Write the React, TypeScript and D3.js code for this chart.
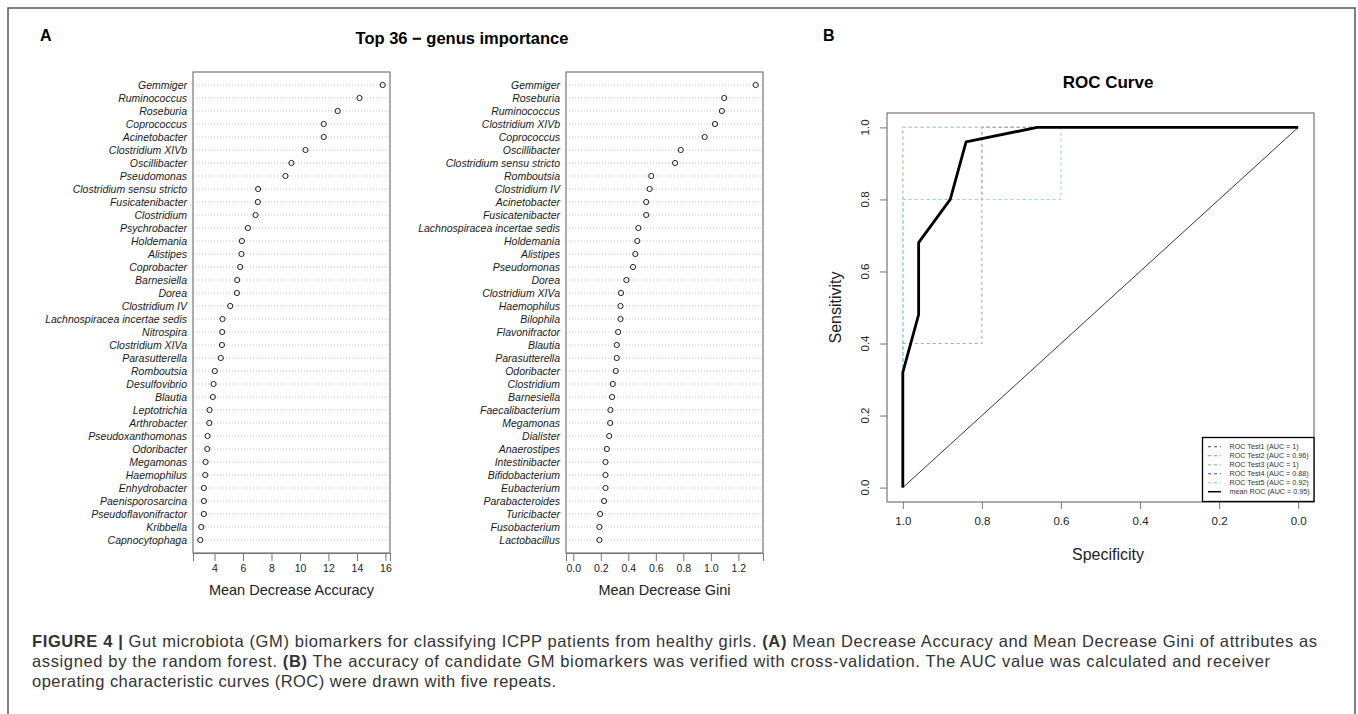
import React, { useEffect, useRef } from "react";
import * as d3 from "d3";

// panel A, left: Mean Decrease Accuracy (top to bottom)
const accGenera = [
  "Gemmiger", "Ruminococcus", "Roseburia", "Coprococcus", "Acinetobacter",
  "Clostridium XIVb", "Oscillibacter", "Pseudomonas", "Clostridium sensu stricto",
  "Fusicatenibacter", "Clostridium", "Psychrobacter", "Holdemania", "Alistipes",
  "Coprobacter", "Barnesiella", "Dorea", "Clostridium IV",
  "Lachnospiracea incertae sedis", "Nitrospira", "Clostridium XIVa", "Parasutterella",
  "Romboutsia", "Desulfovibrio", "Blautia", "Leptotrichia", "Arthrobacter",
  "Pseudoxanthomonas", "Odoribacter", "Megamonas", "Haemophilus", "Enhydrobacter",
  "Paenisporosarcina", "Pseudoflavonifractor", "Kribbella", "Capnocytophaga",
];
const accValues = [
  15.81, 14.18, 12.65, 11.67, 11.67, 10.39, 9.4, 8.98, 7.06, 7.04, 6.88, 6.34,
  5.92, 5.89, 5.8, 5.59, 5.57, 5.1, 4.56, 4.54, 4.52, 4.44, 4.02, 3.93, 3.88,
  3.65, 3.63, 3.51, 3.49, 3.37, 3.35, 3.25, 3.25, 3.25, 3.07, 3.0,
];
const accTicks = [4, 6, 8, 10, 12, 14, 16];

// panel A, right: Mean Decrease Gini (top to bottom)
const giniGenera = [
  "Gemmiger", "Roseburia", "Ruminococcus", "Clostridium XIVb", "Coprococcus",
  "Oscillibacter", "Clostridium sensu stricto", "Romboutsia", "Clostridium IV",
  "Acinetobacter", "Fusicatenibacter", "Lachnospiracea incertae sedis", "Holdemania",
  "Alistipes", "Pseudomonas", "Dorea", "Clostridium XIVa", "Haemophilus", "Bilophila",
  "Flavonifractor", "Blautia", "Parasutterella", "Odoribacter", "Clostridium",
  "Barnesiella", "Faecalibacterium", "Megamonas", "Dialister", "Anaerostipes",
  "Intestinibacter", "Bifidobacterium", "Eubacterium", "Parabacteroides",
  "Turicibacter", "Fusobacterium", "Lactobacillus",
];
const giniValues = [
  1.326, 1.097, 1.08, 1.03, 0.955, 0.781, 0.74, 0.567, 0.555, 0.53, 0.53, 0.473,
  0.465, 0.451, 0.434, 0.386, 0.347, 0.343, 0.343, 0.326, 0.316, 0.316, 0.309,
  0.287, 0.282, 0.27, 0.268, 0.261, 0.244, 0.234, 0.234, 0.234, 0.224, 0.195,
  0.19, 0.19,
];
const giniTicks = [0, 0.2, 0.4, 0.6, 0.8, 1.0, 1.2];

// panel B: ROC curves (specificity, sensitivity)
const meanSpec = [1.0, 1.0, 0.96, 0.96, 0.88, 0.84, 0.66, 0.0];
const meanSens = [0.0, 0.32, 0.48, 0.68, 0.8, 0.96, 1.0, 1.0];
const test1Spec = [1, 1, 0];
const test1Sens = [0, 1, 1];
const test2Spec = [1, 1, 0.8, 0.8, 0];
const test2Sens = [0, 0.8, 0.8, 1, 1];
const test3Spec = [1, 1, 0];
const test3Sens = [0, 1, 1];
const test4Spec = [1, 1, 0.8, 0.8, 0];
const test4Sens = [0, 0.4, 0.4, 1, 1];
const test5Spec = [1, 1, 0.6, 0.6, 0];
const test5Sens = [0, 0.8, 0.8, 1, 1];
const rocTicks = [0, 0.2, 0.4, 0.6, 0.8, 1.0];
const legendLabels = [
  "ROC Test1 (AUC = 1)", "ROC Test2 (AUC = 0.96)", "ROC Test3 (AUC = 1)",
  "ROC Test4 (AUC = 0.88)", "ROC Test5 (AUC = 0.92)", "mean ROC (AUC = 0.95)",
];
// faded curve colours as they appear in the figure
const curveColors = ["#b8b8c8", "#f0b0b0", "#b0dcb0", "#a4a4e4", "#90dce4"];
const legendColors = ["#444", "#f07070", "#70cc70", "#4444cc", "#70d8e0"];

const FONT = "'Liberation Sans', Arial, sans-serif";

function dotPanel(svg, opts) {
  const { names, values, ticks, xmin, left, right, top, bottom, xlabel, fmt } = opts;
  const lo = xmin === undefined ? d3.min(values) : xmin;
  const hi = d3.max(values);
  const pad = (hi - lo) * 0.04;
  const x = d3.scaleLinear().domain([lo - pad, hi + pad]).range([left, right]);
  const y = d3
    .scaleLinear()
    .domain([0, names.length + 1])
    .range([bottom, top]);
  const rowY = (i) => y(names.length - i);

  const g = svg.append("g");

  g.selectAll("line.grid")
    .data(names)
    .join("line")
    .attr("x1", left)
    .attr("x2", right)
    .attr("y1", (d, i) => rowY(i))
    .attr("y2", (d, i) => rowY(i))
    .attr("stroke", "#b8b8b8")
    .attr("stroke-width", 0.8)
    .attr("stroke-dasharray", "1,2");

  g.selectAll("text.lab")
    .data(names)
    .join("text")
    .attr("x", left - 6)
    .attr("y", (d, i) => rowY(i))
    .attr("dy", "0.35em")
    .attr("text-anchor", "end")
    .attr("font-style", "italic")
    .attr("font-size", 10.5)
    .attr("fill", "#1a1a1a")
    .text((d) => d);

  g.selectAll("circle")
    .data(values)
    .join("circle")
    .attr("cx", (d) => x(d))
    .attr("cy", (d, i) => rowY(i))
    .attr("r", 2.6)
    .attr("fill", "none")
    .attr("stroke", "#222")
    .attr("stroke-width", 1);

  g.append("rect")
    .attr("x", left)
    .attr("y", top)
    .attr("width", right - left)
    .attr("height", bottom - top)
    .attr("fill", "none")
    .attr("stroke", "#777")
    .attr("stroke-width", 1.2);

  const axis = g
    .append("g")
    .attr("transform", `translate(0,${bottom})`)
    .call(
      d3
        .axisBottom(x)
        .tickValues(ticks)
        .tickSize(8)
        .tickPadding(4)
        .tickFormat(fmt)
    );
  axis.select(".domain").attr("stroke", "#777");
  axis.selectAll(".tick line").attr("stroke", "#777");
  axis
    .selectAll("text")
    .attr("font-size", 10.5)
    .attr("font-family", FONT)
    .attr("fill", "#222");

  g.append("text")
    .attr("x", (left + right) / 2)
    .attr("y", bottom + 42)
    .attr("text-anchor", "middle")
    .attr("font-size", 14.5)
    .attr("fill", "#222")
    .text(xlabel);
}

export default function App() {
  const ref = useRef(null);

  useEffect(() => {
    const svg = d3.select(ref.current);
    svg.selectAll("*").remove();
    svg.attr("font-family", FONT);

    // outer figure frame
    svg
      .append("path")
      .attr("d", "M8,720 V8 H1355 V720")
      .attr("fill", "none")
      .attr("stroke", "#555")
      .attr("stroke-width", 1.5);

    svg.append("text").attr("x", 40).attr("y", 41).attr("font-size", 16)
      .attr("font-weight", "bold").text("A");
    svg.append("text").attr("x", 823).attr("y", 41).attr("font-size", 16)
      .attr("font-weight", "bold").text("B");

    svg.append("text").attr("x", 462).attr("y", 44).attr("font-size", 16.5)
      .attr("font-weight", "bold").attr("text-anchor", "middle")
      .text("Top 36 \u2212 genus importance");

    dotPanel(svg, {
      names: accGenera, values: accValues, ticks: accTicks,
      left: 193, right: 390, top: 72, bottom: 553,
      xlabel: "Mean Decrease Accuracy", fmt: d3.format("d"),
    });
    dotPanel(svg, {
      names: giniGenera, values: giniValues, ticks: giniTicks, xmin: 0,
      left: 566, right: 763, top: 72, bottom: 553,
      xlabel: "Mean Decrease Gini", fmt: d3.format(".1f"),
    });

    // ROC panel
    const L = 887, R = 1314, T = 113, B = 502;
    const x = d3.scaleLinear().domain([1.04, -0.04]).range([L, R]);
    const y = d3.scaleLinear().domain([-0.04, 1.04]).range([B, T]);
    const line = d3.line().x((d) => x(d[0])).y((d) => y(d[1]));
    const roc = svg.append("g");

    roc.append("text").attr("x", 1108).attr("y", 88).attr("text-anchor", "middle")
      .attr("font-size", 17).attr("font-weight", "bold").text("ROC Curve");

    const tests = [
      [test1Spec, test1Sens], [test2Spec, test2Sens], [test3Spec, test3Sens],
      [test4Spec, test4Sens], [test5Spec, test5Sens],
    ];
    tests.forEach(([s, t], k) => {
      roc.append("path")
        .attr("d", line(s.map((v, i) => [v, t[i]])))
        .attr("fill", "none")
        .attr("stroke", curveColors[k])
        .attr("stroke-width", 1.1)
        .attr("stroke-dasharray", "3,3");
    });

    roc.append("path")
      .attr("d", line([[1, 0], [0, 1]]))
      .attr("stroke", "#222")
      .attr("stroke-width", 0.9)
      .attr("fill", "none");

    roc.append("path")
      .attr("d", line(meanSpec.map((v, i) => [v, meanSens[i]])))
      .attr("fill", "none")
      .attr("stroke", "#000")
      .attr("stroke-width", 2.8)
      .attr("stroke-linejoin", "round");

    roc.append("rect").attr("x", L).attr("y", T).attr("width", R - L)
      .attr("height", B - T).attr("fill", "none").attr("stroke", "#777")
      .attr("stroke-width", 1.2);

    const xa = roc.append("g").attr("transform", `translate(0,${B})`)
      .call(d3.axisBottom(x).tickValues(rocTicks).tickSize(7).tickPadding(8)
        .tickFormat(d3.format(".1f")));
    xa.select(".domain").remove();
    xa.selectAll(".tick line").attr("stroke", "#777");
    xa.selectAll("text").attr("font-size", 11.5).attr("font-family", FONT).attr("fill", "#222");

    const ya = roc.append("g").attr("transform", `translate(${L},0)`)
      .call(d3.axisLeft(y).tickValues(rocTicks).tickSize(7).tickFormat(() => ""));
    ya.select(".domain").remove();
    ya.selectAll(".tick line").attr("stroke", "#777");
    roc.selectAll("text.ylab")
      .data(rocTicks)
      .join("text")
      .attr("transform", (d) => `translate(865,${y(d)}) rotate(-90)`)
      .attr("text-anchor", "middle")
      .attr("dy", "0.35em")
      .attr("font-size", 11.5)
      .attr("fill", "#222")
      .text((d) => d3.format(".1f")(d));

    roc.append("text").attr("x", 1108).attr("y", 560).attr("text-anchor", "middle")
      .attr("font-size", 16).attr("fill", "#222").text("Specificity");
    roc.append("text").attr("transform", `translate(835,${(T + B) / 2}) rotate(-90)`)
      .attr("text-anchor", "middle").attr("dy", "0.35em")
      .attr("font-size", 16).attr("fill", "#222").text("Sensitivity");

    // legend
    const lg = roc.append("g");
    lg.append("rect").attr("x", 1202.5).attr("y", 437.5).attr("width", R - 1202.5)
      .attr("height", 64).attr("fill", "#fff").attr("stroke", "#000").attr("stroke-width", 1.3);
    legendLabels.forEach((lab, i) => {
      const yy = 446.7 + i * 9;
      const isMean = i === legendLabels.length - 1;
      lg.append("line").attr("x1", 1208).attr("x2", 1221).attr("y1", yy).attr("y2", yy)
        .attr("stroke", isMean ? "#000" : legendColors[i])
        .attr("stroke-width", isMean ? 1.5 : 1.1)
        .attr("stroke-dasharray", isMean ? null : "3,3");
      lg.append("text").attr("x", 1229.5).attr("y", yy).attr("dy", "0.35em")
        .attr("font-size", 7.2).attr("fill", "#333").text(lab);
    });

    // caption, stretched to the line widths of the figure
    const cap = svg.append("g").attr("font-size", 16.5).attr("fill", "#333");
    const capLines = [
      [["FIGURE 4 |", true], [" Gut microbiota (GM) biomarkers for classifying ICPP patients from healthy girls. ", false], ["(A)", true], [" Mean Decrease Accuracy and Mean Decrease Gini of attributes as", false]],
      [["assigned by the random forest. ", false], ["(B)", true], [" The accuracy of candidate GM biomarkers was verified with cross-validation. The AUC value was calculated and receiver", false]],
      [["operating characteristic curves (ROC) were drawn with five repeats.", false]],
    ];
    const capWidths = [1285, 1238, 524];
    capLines.forEach((parts, i) => {
      const t = cap.append("text").attr("x", 32).attr("y", 647 + i * 20)
        .attr("textLength", capWidths[i]).attr("lengthAdjust", "spacing")
        .style("white-space", "pre");
      parts.forEach(([s, b]) => {
        t.append("tspan").attr("font-weight", b ? "bold" : "normal").text(s);
      });
    });
  }, []);

  return (
    <svg
      ref={ref}
      width={1358}
      height={714}
      style={{ position: "absolute", left: 0, top: 0, background: "#fff" }}
    />
  );
}
